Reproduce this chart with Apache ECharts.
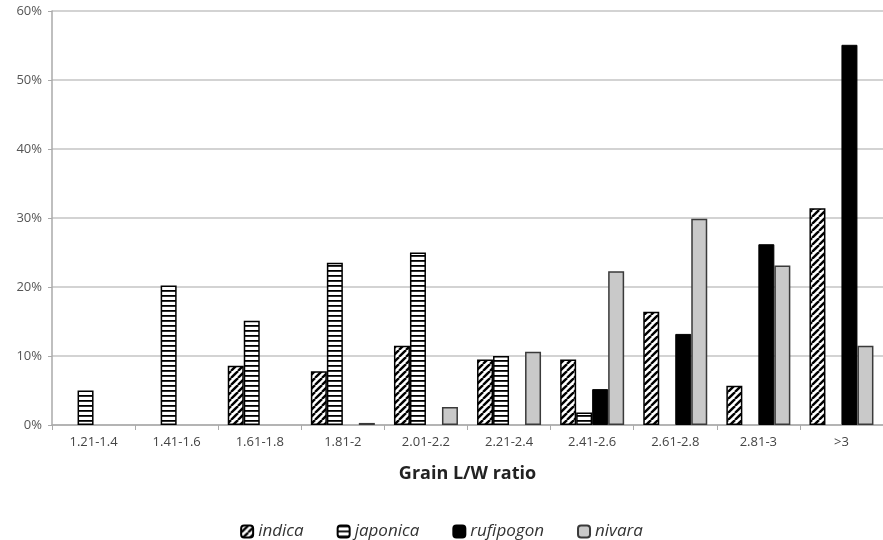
<!DOCTYPE html>
<html><head><meta charset="utf-8">
<script src="https://cdn.jsdelivr.net/npm/echarts@6/dist/echarts.min.js"></script>
<style>html,body{margin:0;padding:0;background:#fff}#c{width:883px;height:540px}</style>
</head><body><div id="c"></div><script>
const categories = ['1.21-1.4','1.41-1.6','1.61-1.8','1.81-2','2.01-2.2','2.21-2.4','2.41-2.6','2.61-2.8','2.81-3','>3'];
const indica    = [0, 0, 8.6, 7.8, 11.5, 9.5, 9.5, 16.4, 5.7, 31.4];
const japonica  = [5, 20.2, 15.1, 23.5, 25, 10, 1.8, 0, 0, 0];
const rufipogon = [0, 0, 0, 0, 0, 0, 5.2, 13.2, 26.2, 55.1];
const nivara    = [0, 0, 0, 0.3, 2.6, 10.6, 22.3, 29.9, 23.1, 11.5];
const seriesNames = ['indica', 'japonica', 'rufipogon', 'nivara'];
const yMin = 0, yMax = 60, yStep = 10;

function diagPattern() {
  const c = document.createElement('canvas');
  c.width = 7; c.height = 7;
  const g = c.getContext('2d');
  g.fillStyle = '#fff'; g.fillRect(0, 0, 7, 7);
  g.strokeStyle = '#000'; g.lineWidth = 2.4;
  for (let k = -1; k <= 1; k++) {
    g.beginPath(); g.moveTo(k * 7, 7); g.lineTo(k * 7 + 7, 0); g.stroke();
  }
  return c;
}
function horizPattern() {
  const c = document.createElement('canvas');
  c.width = 5; c.height = 5;
  const g = c.getContext('2d');
  g.fillStyle = '#fff'; g.fillRect(0, 0, 5, 5);
  g.fillStyle = '#000'; g.fillRect(0, 0, 5, 1.8);
  return c;
}

const styles = [
  { color: { image: diagPattern(), repeat: 'repeat' }, borderColor: '#000', borderWidth: 1.5 },
  { color: { image: horizPattern(), repeat: 'repeat' }, borderColor: '#000', borderWidth: 1.5 },
  { color: '#000', borderColor: '#000', borderWidth: 1 },
  { color: '#c9c9c9', borderColor: '#3a3a3a', borderWidth: 1.5 }
];
const dataSets = [indica, japonica, rufipogon, nivara];

const chart = echarts.init(document.getElementById('c'), null, { renderer: 'canvas' });
chart.setOption({
  animation: false,
  backgroundColor: '#fff',
  grid: { left: 52, right: 0, top: 11, bottom: 115 },
  legend: {
    data: seriesNames,
    top: 518, left: 'center',
    itemWidth: 12, itemHeight: 12, itemGap: 33,
    textStyle: { fontFamily: 'Open Sans', fontStyle: 'italic', fontSize: 17, color: '#333' }
  },
  xAxis: {
    type: 'category', data: categories,
    name: 'Grain L/W ratio', nameLocation: 'middle', nameGap: 40,
    nameTextStyle: { fontFamily: 'Open Sans', fontWeight: 'bold', fontSize: 18, color: '#222' },
    axisLine: { lineStyle: { color: '#aaa', width: 1.5 } },
    axisTick: { show: true, length: 5, lineStyle: { color: '#aaa' } },
    axisLabel: { fontFamily: 'Open Sans', fontSize: 13, color: '#444', margin: 11 }
  },
  yAxis: {
    type: 'value', min: yMin, max: yMax, interval: yStep,
    axisLine: { show: true, lineStyle: { color: '#aaa', width: 1.5 } },
    axisTick: { show: true, length: 4, lineStyle: { color: '#aaa' } },
    axisLabel: { formatter: '{value}%', fontFamily: 'Open Sans', fontSize: 13, color: '#555', margin: 10 },
    splitLine: { lineStyle: { color: '#c4c4c4', width: 1.5 } }
  },
  series: seriesNames.map((n, i) => ({
    name: n, type: 'bar',
    data: dataSets[i].map(v => (v === 0 ? null : v)),
    barWidth: 16, barGap: '0%',
    itemStyle: styles[i]
  }))
});
</script></body></html>
